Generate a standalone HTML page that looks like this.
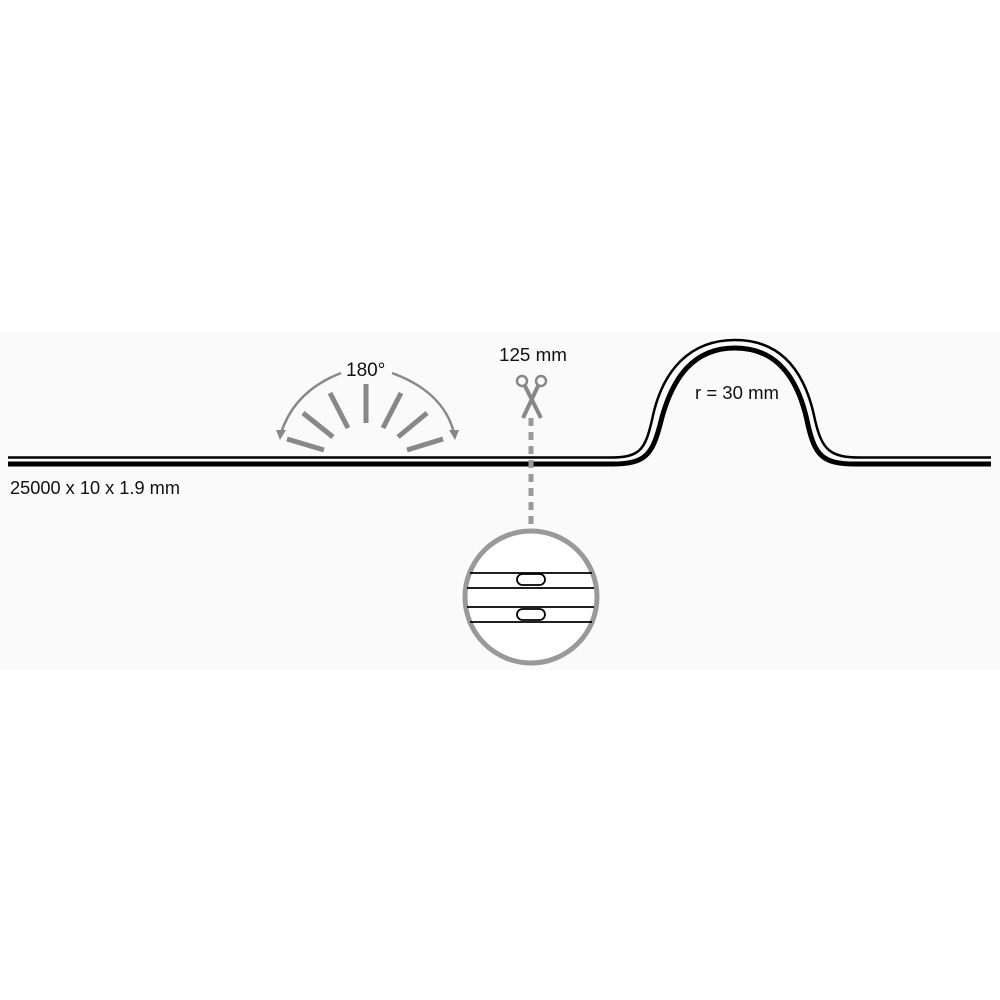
<!DOCTYPE html>
<html><head><style>
html,body{margin:0;padding:0;background:#fff;}
svg{display:block;}
text{font-family:"Liberation Sans",sans-serif;fill:#111;}
</style></head><body>
<svg width="1000" height="1000" viewBox="0 0 1000 1000">
<rect x="0" y="0" width="1000" height="1000" fill="#fff"/>
<rect x="0" y="332" width="1000" height="338" fill="#fafafa"/>
<path d="M8,457.5 H610 C640,457.5 645,450 652,420 C662,370 690,340 735,340 C780,340 805,370 815,420 C822,450 830,457.5 860,457.5 H991" fill="none" stroke="#000" stroke-width="2.5"/>
<path d="M8,464 H612 C645,464 652,455 660,425 C672,375 695,348 735,348 C775,348 798,375 808,425 C815,455 822,464 855,464 H991" fill="none" stroke="#000" stroke-width="5"/>
<text x="10" y="494" font-size="18" textLength="170" lengthAdjust="spacingAndGlyphs">25000 x 10 x 1.9 mm</text>
<text x="695" y="399" font-size="18" textLength="84" lengthAdjust="spacingAndGlyphs">r = 30 mm</text>
<text x="346" y="376" font-size="19">180°</text>
<text x="499" y="361" font-size="18" textLength="68" lengthAdjust="spacingAndGlyphs">125 mm</text>
<g stroke="#888" stroke-width="2.5" fill="none">
<path d="M341,373 C310,385 290,405 281,433"/>
<path d="M392,373 C425,385 447,405 454,433"/>
</g>
<polygon points="276,430 286,430 280,440" fill="#888"/>
<polygon points="449,430 459,430 455,440" fill="#888"/>
<g stroke="#888" stroke-width="5" stroke-linecap="butt">
<line x1="287" y1="439" x2="324" y2="450"/>
<line x1="303" y1="413" x2="333" y2="437"/>
<line x1="330" y1="393" x2="348" y2="428"/>
<line x1="366" y1="384" x2="366" y2="423"/>
<line x1="401" y1="393" x2="383" y2="428"/>
<line x1="427" y1="413" x2="398" y2="437"/>
<line x1="443" y1="439" x2="407" y2="450"/>
</g>
<g stroke="#888" fill="none" stroke-width="2.5">
<circle cx="522" cy="381" r="5"/>
<circle cx="541" cy="381" r="5"/>
</g>
<g stroke="#888" stroke-width="4">
<line x1="525" y1="386" x2="541" y2="418"/>
<line x1="538" y1="386" x2="523" y2="418"/>
</g>
<line x1="531" y1="418" x2="531" y2="530" stroke="#999" stroke-width="5" stroke-dasharray="8,6"/>
<circle cx="531" cy="597" r="66" fill="#fff" stroke="#999" stroke-width="5"/>
<g stroke="#000" stroke-width="1.8" fill="none">
<line x1="470" y1="573" x2="592" y2="573"/>
<line x1="467" y1="588" x2="594" y2="588"/>
<line x1="467" y1="607" x2="594" y2="607"/>
<line x1="470" y1="622" x2="592" y2="622"/>
<rect x="517" y="574" width="28" height="11" rx="5.5" fill="#fff"/>
<rect x="517" y="609" width="28" height="11" rx="5.5" fill="#fff"/>
</g>
</svg>
</body></html>
